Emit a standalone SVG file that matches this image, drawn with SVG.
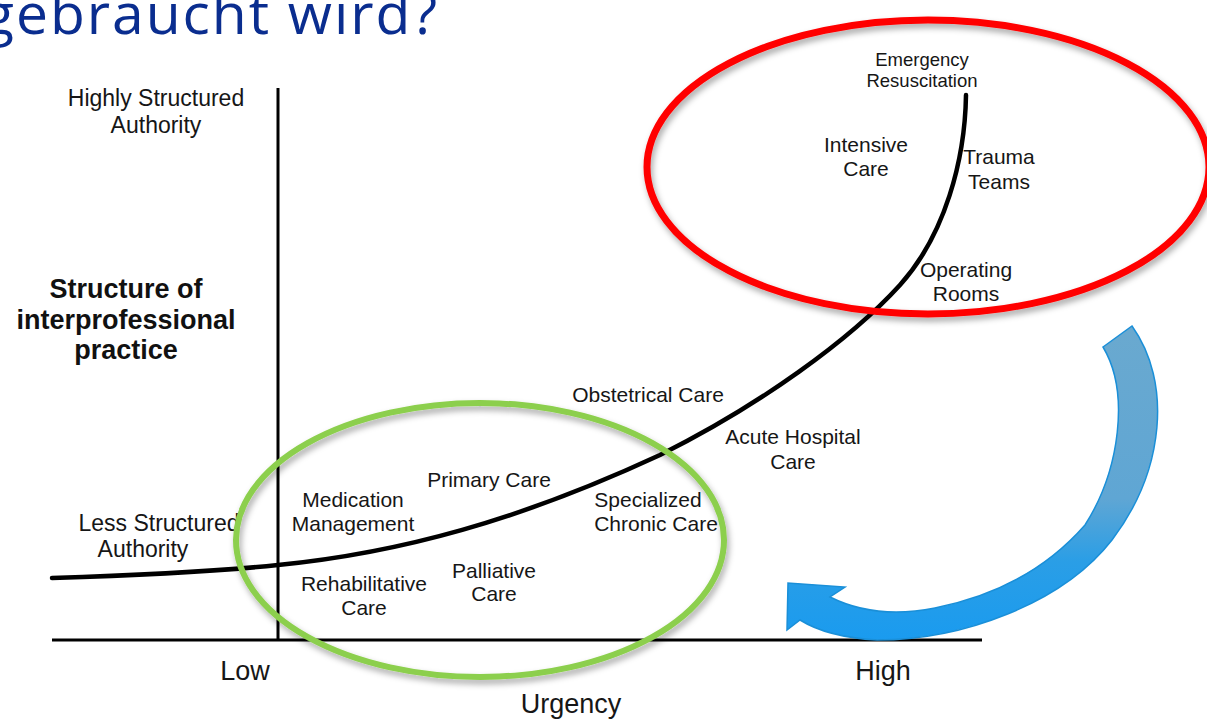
<svg xmlns="http://www.w3.org/2000/svg" width="1207" height="720" viewBox="0 0 1207 720">
  <defs>
    <style>
      .lbl { font-family: "Liberation Sans", Arial, sans-serif; font-size: 21px; fill: #161616; text-anchor: middle; }
      .sm { font-size: 18.5px; }
      .ax { font-size: 23px; }
      .big { font-size: 27px; }
      .ttl { font-family: "Liberation Sans", Arial, sans-serif; font-size: 27px; font-weight: bold; fill: #111; text-anchor: middle; }
      .axis { stroke: #000; stroke-width: 3; fill: none; }
      .curve { stroke: #000; stroke-width: 4.5; fill: none; stroke-linecap: round; }
    </style>
    <filter id="shadow" x="-10%" y="-10%" width="120%" height="130%">
      <feDropShadow dx="2" dy="4" stdDeviation="3" flood-color="#000" flood-opacity="0.35"/>
    </filter>
    <linearGradient id="arrowFill" x1="0" y1="0" x2="0" y2="1">
      <stop offset="0" stop-color="#6aa9cf"/>
      <stop offset="0.55" stop-color="#5fa6d4"/>
      <stop offset="0.75" stop-color="#2a9ee6"/>
      <stop offset="1" stop-color="#1a9bef"/>
    </linearGradient>
  </defs>

  <rect width="1207" height="720" fill="#fff"/>

  <!-- heading fragment -->
  <text x="-17" y="34" font-family="'Open Sans', 'Noto Sans', sans-serif" font-size="57" fill="#0a2d8f" textLength="454" lengthAdjust="spacing">gebraucht wird?</text>

  <!-- axes and curve -->
  <g id="connectors">
    <path class="axis" d="M278,88 V641"/>
    <path class="axis" d="M52,640 H982"/>
    <path class="curve" d="M52,578 C150,575 230,570 278,565 C400,553 520,520 660,455 C760,405 850,340 900,285 C945,235 965,160 966,95"/>
  </g>

  <!-- axis labels -->
  <g id="y-axis-labels">
    <text class="lbl ax" x="156" y="106">Highly Structured</text>
    <text class="lbl ax" x="156" y="133">Authority</text>
    <text class="ttl" x="126" y="298">Structure of</text>
    <text class="ttl" x="126" y="329">interprofessional</text>
    <text class="ttl" x="126" y="359">practice</text>
    <text class="lbl ax" x="159" y="531">Less Structured</text>
    <text class="lbl ax" x="143" y="557">Authority</text>
  </g>
  <g id="x-axis-labels">
    <text class="lbl big" x="245" y="680">Low</text>
    <text class="lbl big" x="883" y="680">High</text>
    <text class="lbl big" x="571" y="713">Urgency</text>
  </g>

  <!-- care settings along the curve -->
  <g id="emergency"><text class="lbl sm" x="922" y="66">Emergency</text><text class="lbl sm" x="922" y="87">Resuscitation</text></g>
  <g id="intensive"><text class="lbl" x="866" y="152">Intensive</text><text class="lbl" x="866" y="176">Care</text></g>
  <g id="trauma"><text class="lbl" x="999" y="164">Trauma</text><text class="lbl" x="999" y="189">Teams</text></g>
  <g id="operating"><text class="lbl" x="966" y="277">Operating</text><text class="lbl" x="966" y="301">Rooms</text></g>
  <g id="obstetrical"><text class="lbl" x="648" y="402">Obstetrical Care</text></g>
  <g id="acute"><text class="lbl" x="793" y="444">Acute Hospital</text><text class="lbl" x="793" y="469">Care</text></g>
  <g id="primary"><text class="lbl" x="489" y="487">Primary Care</text></g>
  <g id="medication"><text class="lbl" x="353" y="507">Medication</text><text class="lbl" x="353" y="531">Management</text></g>
  <g id="specialized"><text class="lbl" x="648" y="507">Specialized</text><text class="lbl" x="656" y="531">Chronic Care</text></g>
  <g id="rehab"><text class="lbl" x="364" y="591">Rehabilitative</text><text class="lbl" x="364" y="615">Care</text></g>
  <g id="palliative"><text class="lbl" x="494" y="578">Palliative</text><text class="lbl" x="494" y="601">Care</text></g>

  <!-- highlight rings -->
  <g id="high-urgency-ring">
    <ellipse cx="928" cy="167" rx="281" ry="147" fill="none" stroke="#f00" stroke-width="7" filter="url(#shadow)"/>
  </g>
  <g id="low-urgency-ring">
    <ellipse cx="480" cy="540" rx="244" ry="137" fill="none" stroke="#8ccf4d" stroke-width="6" filter="url(#shadow)"/>
  </g>

  <!-- curved transfer arrow: ribbon narrows mid-way, then widens into the head -->
  <g id="transfer-arrow">
    <path d="M1103,347 L1132,326 C1172,382 1165,470 1112,540 C1062,604 962,640 877,640 C842,638 816,630 800,620 L787,630 L788,583 L845,587 L830,597 C860,612 895,616 935,608 C1000,595 1050,565 1085,525 C1120,470 1130,392 1103,347 Z" fill="url(#arrowFill)" stroke="#1a8fd8" stroke-width="1.5" stroke-linejoin="miter"/>
  </g>
</svg>
